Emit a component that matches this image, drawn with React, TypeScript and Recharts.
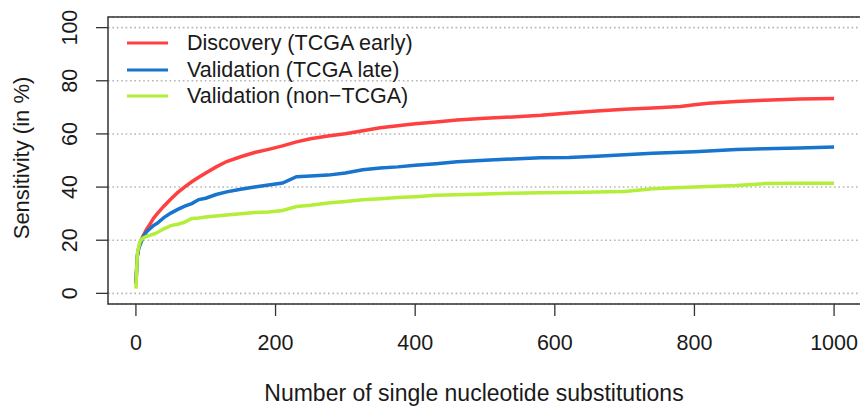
import React from 'react';
import {
  LineChart, Line, XAxis, YAxis, CartesianGrid, ReferenceArea,
} from 'recharts';

const FONT = '"Liberation Sans", Arial, sans-serif';

// number of substitutions (x) shared by all three curves
const substitutions = [
  0, 1, 2, 4, 6, 10, 15, 20, 25, 30, 40, 50, 60, 70, 80, 90, 100, 115, 130, 150,
  170, 190, 210, 230, 250, 275, 300, 325, 350, 375, 400, 430, 460, 500, 540, 580,
  620, 660, 700, 740, 780, 800, 820, 860, 900, 950, 1000,
];

const discovery = [
  3.5, 9, 14, 17, 19, 21.5, 24, 26, 28.2, 29.8, 32.8, 35.5, 38, 40.1, 42, 43.7, 45.3, 47.6, 49.6, 51.4,
  53, 54.2, 55.5, 57, 58.2, 59.2, 60.1, 61.2, 62.3, 63.1, 63.8, 64.5, 65.2, 65.9, 66.4, 67,
  67.9, 68.6, 69.3, 69.8, 70.3, 71, 71.5, 72.2, 72.7, 73.1, 73.3,
];

const validationLate = [
  4.3, 9, 14, 17, 18.3, 21, 23.1, 24.3, 25.5, 26.3, 28.5, 30.2, 31.6, 32.8, 33.8, 35.3, 35.8, 37.2, 38.2, 39.2,
  40, 40.8, 41.5, 43.9, 44.2, 44.5, 45.3, 46.5, 47.2, 47.6, 48.2, 48.8, 49.5, 50.1, 50.6, 51,
  51.1, 51.6, 52.2, 52.7, 53.1, 53.3, 53.6, 54.1, 54.4, 54.7, 55.1,
];

const validationNonTcga = [
  1.8, 8, 15, 17.5, 19.6, 20.8, 21.4, 21.8, 22.3, 22.8, 24.3, 25.5, 26, 26.8, 28.2, 28.4, 28.7, 29.1, 29.5, 30,
  30.4, 30.6, 31.2, 32.7, 33.2, 34, 34.6, 35.2, 35.6, 36.1, 36.4, 36.9, 37.1, 37.4, 37.7, 37.9,
  38, 38.1, 38.3, 39.4, 39.8, 40, 40.2, 40.6, 41.3, 41.4, 41.4,
];

const xTicks = [0, 200, 400, 600, 800, 1000];
const yTicks = [0, 20, 40, 60, 80, 100];

const series = [
  { key: 'discovery', name: 'Discovery (TCGA early)', color: '#ff4040' },
  { key: 'late', name: 'Validation (TCGA late)', color: '#1874cd' },
  { key: 'nonTcga', name: 'Validation (non\u2212TCGA)', color: '#b3ee3a' },
];

const data = substitutions.map((x, i) => ({
  x,
  discovery: discovery[i],
  late: validationLate[i],
  nonTcga: validationNonTcga[i],
}));

function XTick({ x, payload }: any) {
  return (
    <text x={x} y={350} textAnchor="middle" fontSize={21.5} fontFamily={FONT} fill="#1a1a1a">
      {payload.value}
    </text>
  );
}

function YTick({ y, payload }: any) {
  return (
    <text
      x={70} y={y} transform={`rotate(-90 70 ${y})`} textAnchor="middle"
      dominantBaseline="central" fontSize={21.5} fontFamily={FONT} fill="#1a1a1a"
    >
      {payload.value}
    </text>
  );
}

// legend drawn as an overlay so it doesn't eat into the plot area
function LegendBox() {
  return (
    <div style={{ position: 'absolute', left: 127, top: 30, fontFamily: FONT, fontSize: 21.5, color: '#1a1a1a' }}>
      {series.map((s) => (
        <div key={s.key} style={{ display: 'flex', alignItems: 'center', height: 26.5 }}>
          <svg width={60} height={26} style={{ flex: 'none' }}>
            <line x1={0} x2={41} y1={13} y2={13} stroke={s.color} strokeWidth={3} />
          </svg>
          <span style={{ lineHeight: '26px', whiteSpace: 'nowrap' }}>{s.name}</span>
        </div>
      ))}
    </div>
  );
}

export default function App() {
  return (
    <div style={{ position: 'absolute', left: 0, top: 0, width: 860, height: 406, overflow: 'hidden', background: '#fff' }}>
      <LineChart width={862} height={406} data={data} margin={{ top: 17, right: 0, bottom: 0, left: 0 }}>
        <CartesianGrid horizontal vertical={false} stroke="#b5b5b5" strokeWidth={1.6} strokeDasharray="1.6 2.8" />
        <XAxis
          dataKey="x" type="number" domain={[-40, 1040]} ticks={xTicks} allowDataOverflow
          axisLine={false} tickSize={12} tickLine={{ stroke: '#333', strokeWidth: 1.3 }}
          height={102} tick={<XTick />}
          label={() => (
            <text x={474} y={401} textAnchor="middle" fontSize={23} fontFamily={FONT} fill="#1a1a1a">
              Number of single nucleotide substitutions
            </text>
          )}
        />
        <YAxis
          type="number" domain={[-4, 104]} ticks={yTicks} allowDataOverflow
          axisLine={false} tickSize={12} tickLine={{ stroke: '#333', strokeWidth: 1.3 }}
          width={108} tick={<YTick />}
          label={() => (
            <text
              x={21} y={158} transform="rotate(-90 21 158)" textAnchor="middle"
              dominantBaseline="central" fontSize={22} fontFamily={FONT} fill="#1a1a1a"
            >
              Sensitivity (in %)
            </text>
          )}
        />
        {series.map((s) => (
          <Line
            key={s.key} dataKey={s.key} name={s.name} type="linear" stroke={s.color}
            strokeWidth={3.5} dot={false} isAnimationActive={false}
          />
        ))}
        <ReferenceArea x1={-40} x2={1040} y1={-4} y2={104} fill="none" stroke="#333" strokeWidth={1.5} />
      </LineChart>
      <LegendBox />
    </div>
  );
}
